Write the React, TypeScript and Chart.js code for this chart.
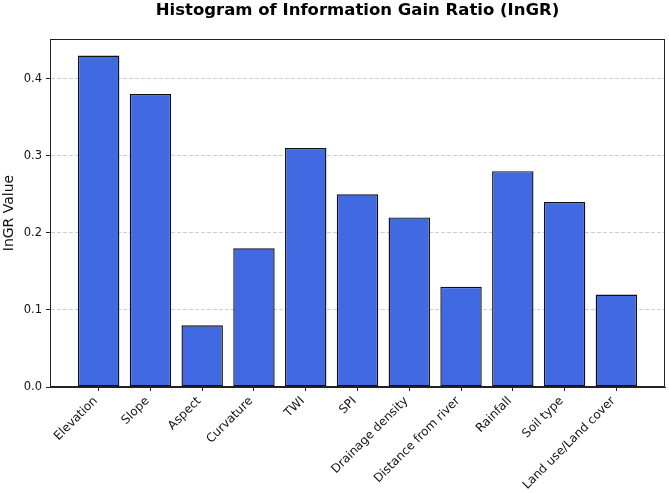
import React, { useEffect, useRef } from "react";
import { Chart, registerables } from "chart.js";

Chart.register(...registerables);

// Factors and their information gain ratio
const factors = [
  "Elevation",
  "Slope",
  "Aspect",
  "Curvature",
  "TWI",
  "SPI",
  "Drainage density",
  "Distance from river",
  "Rainfall",
  "Soil type",
  "Land use/Land cover",
];
const ingrValues = [0.43, 0.38, 0.08, 0.18, 0.31, 0.25, 0.22, 0.13, 0.28, 0.24, 0.12];
const yTicks = [0.0, 0.1, 0.2, 0.3, 0.4];

const chartTitle = "Histogram of Information Gain Ratio (InGR)";
const yAxisTitle = "InGR Value";

const FONT = "'DejaVu Sans', sans-serif";

// Title above the plot plus a full frame around the plot area
const framePlugin = {
  id: "frameAndTitle",
  afterDraw(chart: any) {
    const { ctx, chartArea } = chart;
    ctx.save();
    ctx.strokeStyle = "#222";
    ctx.lineWidth = 1;
    ctx.strokeRect(
      Math.round(chartArea.left) + 0.5,
      Math.round(chartArea.top) + 0.5,
      Math.round(chartArea.right - chartArea.left) - 1,
      Math.round(chartArea.bottom - chartArea.top) - 1
    );
    ctx.fillStyle = "#000";
    ctx.font = `bold 16.5px ${FONT}`;
    ctx.textAlign = "center";
    ctx.textBaseline = "alphabetic";
    ctx.fillText(chartTitle, (chartArea.left + chartArea.right) / 2, 15);
    ctx.restore();
  },
};

export default function App() {
  const canvasRef = useRef<HTMLCanvasElement | null>(null);

  useEffect(() => {
    document.body.style.margin = "0";
    const canvas = canvasRef.current;
    if (!canvas) return;
    const n = factors.length;
    // matplotlib-like padding: bar half width (0.4) plus 5% of the data span
    const span = n - 1 + 0.8;
    const pad = 0.4 + span * 0.05;
    const yMax = Math.max(...ingrValues) * 1.05;

    const chart = new Chart(canvas, {
      type: "bar",
      data: {
        datasets: [
          {
            data: ingrValues.map((v, i) => ({ x: i, y: v })),
            backgroundColor: "#4169E1",
            borderColor: "#111",
            borderWidth: 1.4,
            borderSkipped: false,
            categoryPercentage: 1,
            barPercentage: 0.8,
          },
        ],
      },
      options: {
        animation: false,
        responsive: false,
        devicePixelRatio: 1,
        layout: { padding: { top: 39, right: 4, left: 0, bottom: 0 } },
        plugins: {
          legend: { display: false },
          tooltip: { enabled: false },
          title: { display: false },
        },
        scales: {
          x: {
            type: "linear",
            offset: false,
            min: -pad,
            max: n - 1 + pad,
            afterBuildTicks: (scale: any) => {
              scale.ticks = factors.map((_, i) => ({ value: i }));
            },
            afterFit: (scale: any) => {
              scale.height = 106;
            },
            ticks: {
              autoSkip: false,
              minRotation: 45,
              maxRotation: 45,
              padding: 3,
              labelOffset: -3,
              color: "#111",
              font: { family: FONT, size: 12 },
              callback: (v: any) => factors[Math.round(Number(v))] ?? "",
            },
            grid: {
              offset: false,
              drawOnChartArea: false,
              drawTicks: true,
              tickLength: 4,
              tickColor: "#222",
              tickWidth: 1,
            },
            border: { display: true, color: "#222", width: 1 },
          },
          y: {
            type: "linear",
            min: 0,
            max: yMax,
            afterBuildTicks: (scale: any) => {
              scale.ticks = yTicks.map((v) => ({ value: v }));
            },
            afterFit: (scale: any) => {
              scale.width = 50;
            },
            ticks: {
              padding: 4,
              color: "#111",
              font: { family: FONT, size: 11.5 },
              callback: (v: any) => Number(v).toFixed(1),
            },
            grid: {
              color: "rgba(190,190,190,0.75)",
              lineWidth: 1,
              drawTicks: true,
              tickLength: 4,
              tickColor: "#222",
              tickWidth: 1,
            },
            border: { display: true, color: "#222", width: 1, dash: [4, 2] },
            title: {
              display: true,
              text: yAxisTitle,
              color: "#111",
              font: { family: FONT, size: 14 },
              padding: { top: 1, bottom: 0 },
            },
          },
        },
      },
      plugins: [framePlugin],
    });

    return () => chart.destroy();
  }, []);

  return (
    <div style={{ width: 669, height: 493, background: "#fff" }}>
      <canvas ref={canvasRef} width={669} height={493} style={{ display: "block" }} />
    </div>
  );
}
